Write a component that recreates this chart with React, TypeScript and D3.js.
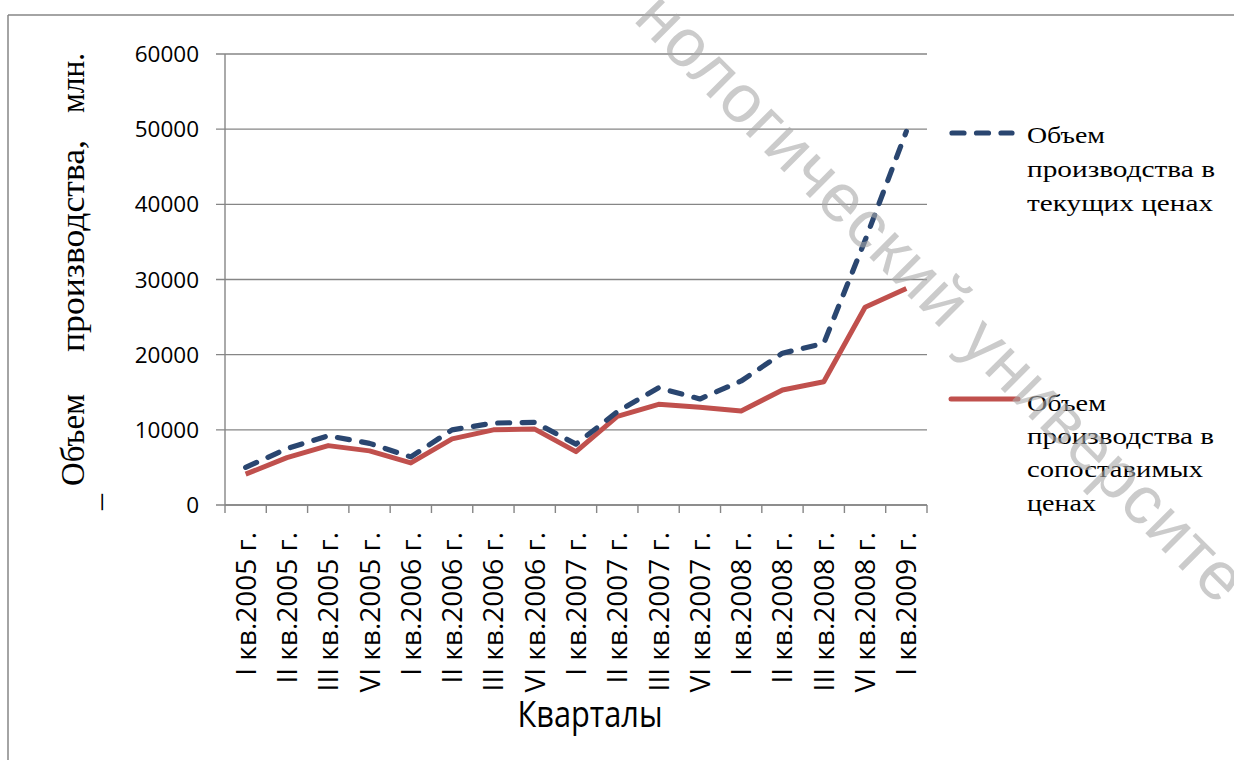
import React from "react";
import * as d3 from "d3";

const categories = [
  "I кв.2005 г.", "II кв.2005 г.", "III кв.2005 г.", "VI кв.2005 г.",
  "I кв.2006 г.", "II кв.2006 г.", "III кв.2006 г.", "VI кв.2006 г.",
  "I кв.2007 г.", "II кв.2007 г.", "III кв.2007 г.", "VI кв.2007 г.",
  "I кв.2008 г.", "II кв.2008 г.", "III кв.2008 г.", "VI кв.2008 г.",
  "I кв.2009 г.",
];
const currentPrices = [5000, 7500, 9200, 8200, 6400, 10000, 10900, 11000, 8100, 12400, 15600, 14100, 16500, 20200, 21500, 35200, 49700];
const comparablePrices = [4100, 6300, 7900, 7200, 5600, 8800, 10000, 10100, 7100, 11800, 13400, 13000, 12500, 15300, 16400, 26300, 28800];
const yTicks = [0, 10000, 20000, 30000, 40000, 50000, 60000];
const legend1 = ["Объем", "производства в", "текущих ценах"];
const legend2 = ["Объем", "производства в", "сопоставимых", "ценах"];
const yTitleWords = ["Объем", "производства,", "млн."];
const xTitle = "Кварталы";
const watermark = "нологический университе";

const BLUE = "#2A4670";
const RED = "#C0504D";
const GRID = "#868686";
const SANS = "'Open Sans', 'Noto Sans', sans-serif";
const SERIF = "'Liberation Serif', 'Times New Roman', serif";

export default function App() {
  const x = d3.scaleBand<string>().domain(categories).range([225, 927]).padding(0);
  const y = d3.scaleLinear().domain([0, 60000]).range([505, 54]);
  const cx = (i: number) => (x(categories[i]) as number) + x.bandwidth() / 2;
  const line = d3
    .line<number>()
    .x((_, i) => cx(i))
    .y((d) => y(d));

  const bandEdges = categories.map((c) => x(c) as number).concat([927]);

  const l1Widths = [78, 188, 186];
  const l1Base = [143, 176.5, 210.5];
  const l2Widths = [79, 187, 176, 69];
  const l2Base = [410.5, 443.5, 477, 510.5];

  const yTitle = [
    { t: yTitleWords[0], y0: 486, len: 92 },
    { t: yTitleWords[1], y0: 352, len: 212 },
    { t: yTitleWords[2], y0: 113, len: 60 },
  ];

  return (
    <svg
      width={1234}
      height={760}
      style={{ position: "absolute", left: 0, top: 0, display: "block", background: "#fff" }}
    >
      <rect x={0} y={0} width={1234} height={760} fill="#fff" />
      {/* frame */}
      <line x1={8} y1={15} x2={1234} y2={15} stroke={GRID} strokeWidth={1.5} />
      <line x1={8} y1={15} x2={8} y2={760} stroke={GRID} strokeWidth={1.5} />

      {/* gridlines and y ticks */}
      {yTicks.map((t) => (
        <g key={t}>
          <line x1={216} x2={927} y1={y(t)} y2={y(t)} stroke={GRID} strokeWidth={1.4} />
          <text
            x={199}
            y={y(t)}
            dy="0.36em"
            textAnchor="end"
            fontFamily={SANS}
            fontSize={22.5}
            fill="#000"
          >
            {t}
          </text>
        </g>
      ))}
      {/* axes */}
      <line x1={225} x2={225} y1={54} y2={505} stroke={GRID} strokeWidth={1.4} />
      <line x1={225} x2={927} y1={505} y2={505} stroke={GRID} strokeWidth={1.4} />
      {bandEdges.map((bx, i) => (
        <line key={i} x1={bx} x2={bx} y1={505} y2={513} stroke={GRID} strokeWidth={1.4} />
      ))}

      {/* x labels */}
      {categories.map((c, i) => (
        <text
          key={c}
          transform={`translate(${cx(i) + 10},532) rotate(-90)`}
          textAnchor="end"
          fontFamily={SANS}
          fontSize={28}
          fill="#000"
        >
          {c}
        </text>
      ))}

      {/* series */}
      <path d={line(comparablePrices) || ""} fill="none" stroke={RED} strokeWidth={5} strokeLinejoin="round" />
      <path
        d={line(currentPrices) || ""}
        fill="none"
        stroke={BLUE}
        strokeWidth={5.2}
        strokeDasharray="12 12.5"
        strokeLinecap="round"
        strokeLinejoin="round"
      />

      {/* legend */}
      <line x1={952} x2={1012} y1={133} y2={133} stroke={BLUE} strokeWidth={5.2} strokeDasharray="12 12.5" strokeLinecap="round" />
      {legend1.map((s, i) => (
        <text
          key={"a" + i}
          x={1027}
          y={l1Base[i]}
          fontFamily={SERIF}
          fontSize={23}
          textLength={l1Widths[i]}
          lengthAdjust="spacingAndGlyphs"
          fill="#000"
        >
          {s}
        </text>
      ))}
      <line x1={951} x2={1018} y1={399} y2={399} stroke={RED} strokeWidth={5} strokeLinecap="round" />
      {legend2.map((s, i) => (
        <text
          key={"b" + i}
          x={1027}
          y={l2Base[i]}
          fontFamily={SERIF}
          fontSize={23}
          textLength={l2Widths[i]}
          lengthAdjust="spacingAndGlyphs"
          fill="#000"
        >
          {s}
        </text>
      ))}

      {/* y title */}
      {yTitle.map((w, i) => (
        <text
          key={"y" + i}
          transform={`translate(84,${w.y0}) rotate(-90)`}
          fontFamily={SERIF}
          fontSize={33}
          textLength={w.len}
          lengthAdjust="spacingAndGlyphs"
          fill="#000"
        >
          {w.t}
        </text>
      ))}
      <text transform="translate(110,510) rotate(-90)" fontFamily={SERIF} fontSize={32} fill="#000">
        –
      </text>

      {/* x title */}
      <text
        x={590}
        y={727}
        textAnchor="middle"
        fontFamily={SANS}
        fontSize={37}
        textLength={145}
        lengthAdjust="spacingAndGlyphs"
        fill="#000"
      >
        {xTitle}
      </text>

      {/* watermark */}
      <text
        transform="translate(632,20) rotate(45)"
        fontFamily="'Liberation Sans', Arial, sans-serif"
        fontSize={68}
        letterSpacing={1}
        fill="#a8a8a8"
        fillOpacity={0.6}
      >
        {watermark}
      </text>
    </svg>
  );
}
